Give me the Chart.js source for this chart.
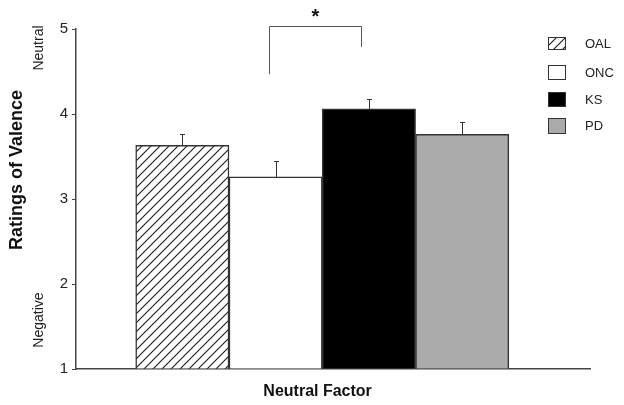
<!DOCTYPE html>
<html>
<head>
<meta charset="utf-8">
<script src="https://cdn.jsdelivr.net/npm/chart.js@4"></script>
<style>
  body { margin: 0; background: #fff; }
  canvas { display: block; }
</style>
</head>
<body>
<canvas id="grafico" width="624" height="405"></canvas>
<script>
// dados
const grupos = ['OAL', 'ONC', 'KS', 'PD'];
const posicoes = [1, 2, 3, 4];
const medias = [3.63, 3.26, 4.06, 3.76];
const erros = [0.14, 0.19, 0.12, 0.15];
const ticksY = [1, 2, 3, 4, 5];
const rotulosEscala = ['Neutral', 'Negative'];
// colchete de significância (ONC x KS): altura esquerda, topo, altura direita
const colchete = [4.47, 5.04, 4.79];

// padrão hachurado para o OAL
function criarHachura() {
    const n = 9;
    const c = document.createElement('canvas');
    c.width = n; c.height = n;
    const g = c.getContext('2d');
    g.fillStyle = '#fff';
    g.fillRect(0, 0, n, n);
    g.strokeStyle = '#1a1a1a';
    g.lineWidth = 1.1;
    g.beginPath();
    g.moveTo(-2, n + 2); g.lineTo(n + 2, -2);
    g.moveTo(-2, 2); g.lineTo(2, -2);
    g.moveTo(n - 2, n + 2); g.lineTo(n + 2, n - 2);
    g.stroke();
    return g.createPattern(c, 'repeat');
}

const ctx = document.getElementById('grafico').getContext('2d');
const hachura = criarHachura();
const cores = [hachura, '#ffffff', '#000000', '#aaaaaa'];
const fonte = '"Liberation Sans", Arial, sans-serif';

// barras de erro, colchete, legenda e textos
const extras = {
    id: 'extras',
    afterDatasetsDraw(chart) {
        const g = chart.ctx;
        const x = chart.scales.x, y = chart.scales.y;
        g.save();
        // barras de erro
        g.strokeStyle = '#333';
        g.lineWidth = 1;
        posicoes.forEach((p, i) => {
            const px = Math.round(x.getPixelForValue(p)) + 0.5;
            const y0 = y.getPixelForValue(medias[i]);
            const y1 = Math.round(y.getPixelForValue(medias[i] + erros[i])) + 0.5;
            g.beginPath();
            g.moveTo(px, y0); g.lineTo(px, y1);
            g.moveTo(px - 2.5, y1); g.lineTo(px + 2.5, y1);
            g.stroke();
        });
        // colchete
        const xa = Math.round(x.getPixelForValue(1.93)) + 0.5;
        const xb = Math.round(x.getPixelForValue(2.91)) + 0.5;
        const yt = Math.round(y.getPixelForValue(colchete[1])) + 0.5;
        g.strokeStyle = '#555';
        g.beginPath();
        g.moveTo(xa, y.getPixelForValue(colchete[0]));
        g.lineTo(xa, yt); g.lineTo(xb, yt);
        g.lineTo(xb, y.getPixelForValue(colchete[2]));
        g.stroke();
        g.fillStyle = '#111';
        g.font = 'bold 20px ' + fonte;
        g.textAlign = 'center';
        g.textBaseline = 'middle';
        g.fillText('*', (xa + xb) / 2, 17);

        // legenda
        const tops = [37, 65, 92, 118];
        const alturas = [12, 14, 14, 15];
        grupos.forEach((nome, i) => {
            g.fillStyle = cores[i];
            g.fillRect(548, tops[i], 18, alturas[i]);
            g.strokeStyle = '#333';
            g.lineWidth = 1;
            g.strokeRect(548.5, tops[i] + 0.5, 17, alturas[i]);
            g.fillStyle = '#222';
            g.font = '13px ' + fonte;
            g.textAlign = 'left';
            g.fillText(nome, 585, tops[i] + alturas[i] / 2 + 1);
        });

        // títulos dos eixos
        g.fillStyle = '#111';
        g.font = 'bold 16px ' + fonte;
        g.textAlign = 'center';
        g.fillText('Neutral Factor', x.getPixelForValue(2.45), 392);
        g.save();
        g.translate(17, 170);
        g.rotate(-Math.PI / 2);
        g.font = 'bold 18px ' + fonte;
        g.fillText('Ratings of Valence', 0, 0);
        g.restore();
        // rótulos Neutral / Negative
        g.font = '14px ' + fonte;
        g.fillStyle = '#222';
        [[rotulosEscala[0], 48], [rotulosEscala[1], 320]].forEach(([t, py]) => {
            g.save();
            g.translate(39, py);
            g.rotate(-Math.PI / 2);
            g.fillText(t, 0, 0);
            g.restore();
        });
        g.restore();
    }
};

new Chart(ctx, {
    type: 'bar',
    data: {
        datasets: [{
            data: posicoes.map((p, i) => ({ x: p, y: medias[i] })),
            backgroundColor: cores,
            borderColor: '#333',
            borderWidth: 1.5,
            barPercentage: 1,
            categoryPercentage: 1,
            base: 1
        }]
    },
    options: {
        responsive: false,
        animation: false,
        layout: { padding: { left: 0, right: 34, top: 29, bottom: 28 } },
        plugins: { legend: { display: false }, tooltip: { enabled: false } },
        scales: {
            x: {
                type: 'linear',
                offset: false,
                min: -0.14,
                max: 5.37,
                afterBuildTicks: s => { s.ticks = posicoes.map(v => ({ value: v })); },
                ticks: { display: false },
                grid: { display: false, offset: false },
                border: { color: '#444', width: 1.5 }
            },
            y: {
                min: 1,
                max: 5,
                afterBuildTicks: s => { s.ticks = ticksY.map(v => ({ value: v })); },
                afterFit: s => { s.width = 76; },
                ticks: { color: '#222', font: { family: fonte, size: 15 }, padding: 4 },
                grid: { drawOnChartArea: false, tickLength: 4, color: '#444' },
                border: { color: '#444', width: 1.5 }
            }
        }
    },
    plugins: [extras]
});
</script>
</body>
</html>
